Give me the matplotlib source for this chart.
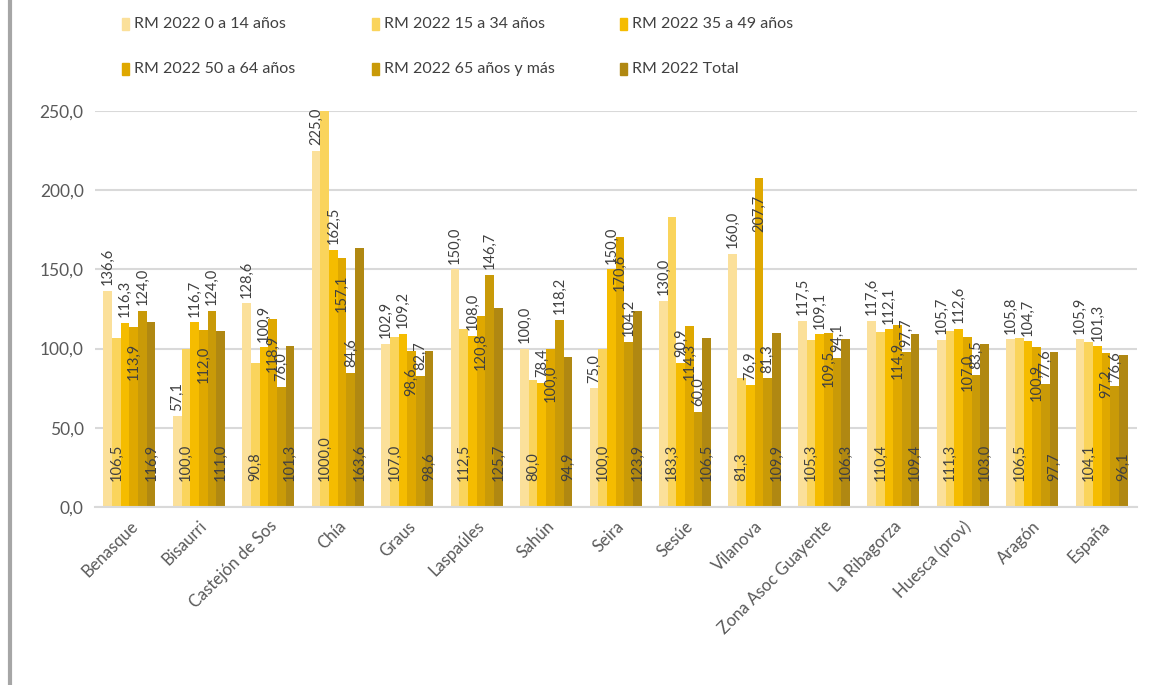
import numpy as np
import matplotlib
matplotlib.use("Agg")
import matplotlib.pyplot as plt
from matplotlib.lines import Line2D
from matplotlib.patches import Rectangle

plt.rcParams['font.family'] = ['Lato', 'DejaVu Sans']

# categories and series
categorias = ["Benasque", "Bisaurri", "Castejón de Sos", "Chía", "Graus", "Laspaúles",
              "Sahún", "Seira", "Sesúe", "Vilanova", "Zona Asoc Guayente",
              "La Ribagorza", "Huesca (prov)", "Aragón", "España"]

series_nombres = ["RM 2022 0 a 14 años", "RM 2022 15 a 34 años", "RM 2022 35 a 49 años",
                  "RM 2022 50 a 64 años", "RM 2022 65 años y más", "RM 2022 Total"]

rm_0_14 = [136.6, 57.1, 128.6, 225.0, 102.9, 150.0, 100.0, 75.0, 130.0, 160.0, 117.5, 117.6, 105.7, 105.8, 105.9]
rm_15_34 = [106.5, 100.0, 90.8, 1000.0, 107.0, 112.5, 80.0, 100.0, 183.3, 81.3, 105.3, 110.4, 111.3, 106.5, 104.1]
rm_35_49 = [116.3, 116.7, 100.9, 162.5, 109.2, 108.0, 78.4, 150.0, 90.9, 76.9, 109.1, 112.1, 112.6, 104.7, 101.3]
rm_50_64 = [113.9, 112.0, 118.9, 157.1, 98.6, 120.8, 100.0, 170.6, 114.3, 207.7, 109.5, 114.9, 107.0, 100.9, 97.2]
rm_65_mas = [124.0, 124.0, 76.0, 84.6, 82.7, 146.7, 118.2, 104.2, 60.0, 81.3, 94.1, 97.7, 83.5, 77.6, 76.6]
rm_total = [116.9, 111.0, 101.3, 163.6, 98.6, 125.7, 94.9, 123.9, 106.5, 109.9, 106.3, 109.4, 103.0, 97.7, 96.1]

valores = [rm_0_14, rm_15_34, rm_35_49, rm_50_64, rm_65_mas, rm_total]
colores = ["#FBE09A", "#FAD45C", "#F5BC00", "#DFA800", "#C99A08", "#B08812"]
# label placement like Excel: outside end / inside base / inside end
posiciones = ["out", "base", "out", "in", "out", "base"]

W, H = 1155, 685
fig = plt.figure(figsize=(W / 100, H / 100), dpi=100)
ax = fig.add_axes([0.082, 0.26, 0.902, 0.578])

x = np.arange(len(categorias))
ancho = 0.125
for i, (vals, col, pos) in enumerate(zip(valores, colores, posiciones)):
    xs = x - 2.5 * ancho + i * ancho
    ax.bar(xs, vals, width=ancho, color=col, zorder=2)
    for xb, v in zip(xs, vals):
        txt = f"{v:.1f}".replace(".", ",")
        if pos == "out":
            y, off, va = min(v, 250), 4, "bottom"
        elif pos == "in":
            y, off, va = min(v, 250), -12, "top"
        else:
            y, off, va = 0, 19, "bottom"
        ax.annotate(txt, (xb, y), xytext=(0, off), textcoords="offset points",
                    rotation=90, ha="center", va=va, fontsize=10.5, color="#404040",
                    annotation_clip=False, zorder=3)

ax.set_ylim(0, 250)
ax.set_xlim(-0.5, len(categorias) - 0.5)
ax.set_yticks(np.arange(0, 251, 50))
ax.set_yticklabels([f"{t:.1f}".replace(".", ",") for t in np.arange(0, 251, 50)],
                   fontsize=12.5, color="#595959")
ax.set_xticks(x)
ax.set_xticklabels(categorias, rotation=45, ha="right", rotation_mode="anchor",
                   fontsize=12, color="#595959")
ax.tick_params(axis="both", length=0, pad=8)
ax.grid(axis="y", color="#D9D9D9", linewidth=1.5, zorder=0)
for s in ["top", "right", "left"]:
    ax.spines[s].set_visible(False)
ax.spines["bottom"].set_color("#D9D9D9")
ax.spines["bottom"].set_linewidth(1.5)

# legend, laid out row by row like the original
leg_x = [122, 372, 620]
leg_y = [24, 69]
for k, (nombre, col) in enumerate(zip(series_nombres, colores)):
    px = leg_x[k % 3]
    py = leg_y[k // 3]
    fig.add_artist(Rectangle((px / W, 1 - (py + 6) / H), 7 / W, 12 / H,
                             color=col, transform=fig.transFigure))
    fig.text((px + 12) / W, 1 - py / H, nombre, fontsize=11.5, color="#404040",
             ha="left", va="center")

# grey border on the left edge
fig.add_artist(Line2D([0.009, 0.009], [0, 1], color="#A6A6A6", linewidth=3,
                      transform=fig.transFigure))

fig.savefig("out.png", dpi=100)
